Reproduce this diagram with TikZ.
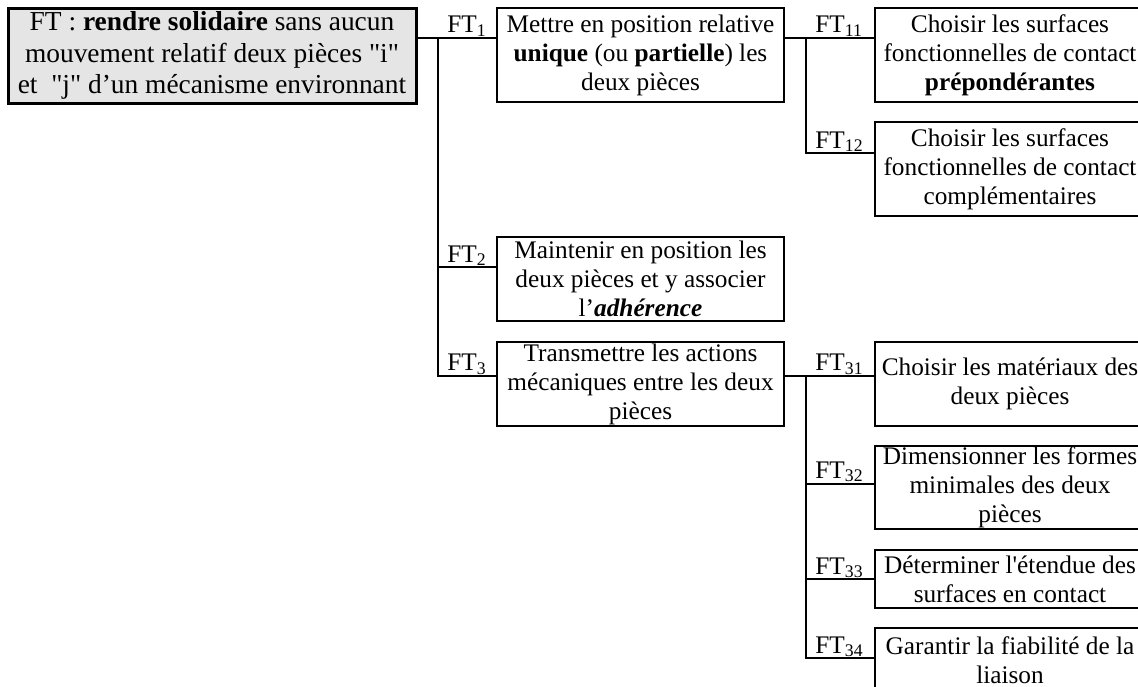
\documentclass[tikz,border=0pt]{standalone}
\usepackage{fontspec}
\setmainfont{Liberation Serif}[Ligatures=TeXOff]
\definecolor{rootfill}{RGB}{229,229,229}
\tikzset{
  box/.style={draw, line width=1pt, align=center, inner sep=0pt,
    font=\fontsize{12.65}{14.5}\selectfont},
  rootbox/.style={draw, line width=1.5pt, fill=rootfill, align=center, inner sep=0pt,
    font=\fontsize{13.7}{15.75}\selectfont},
  link/.style={line width=1pt},
  ftlabel/.style={anchor=base west, inner sep=0pt,
    font=\fontsize{12.65}{14.5}\selectfont},
}
\begin{document}
\begin{tikzpicture}[x=0.5pt, y=-0.5pt]
  \clip (0,0) rectangle (1138,686);

  % main function
  \node[rootbox, minimum width=204pt, minimum height=47.5pt] (root) at (212,55.5)
    {FT : \textbf{rendre solidaire} sans aucun\\
     mouvement relatif deux pièces "i"\\
     et~~"j" d’un mécanisme environnant};

  % first level
  \node[box, minimum width=143.5pt, minimum height=47pt] (ft1) at (640.5,55)
    {Mettre en position relative\\
     \textbf{unique} (ou \textbf{partielle}) les\\
     deux pièces};
  \node[box, minimum width=143.5pt, minimum height=42pt] (ft2) at (640.5,279)
    {Maintenir en position les\\
     deux pièces et y associer\\
     l’\textbf{\textit{adhérence}}};
  \node[box, minimum width=143.5pt, minimum height=42pt] (ft3) at (640.5,384)
    {Transmettre les actions\\
     mécaniques entre les deux\\
     pièces};

  % second level
  \node[box, minimum width=135pt, minimum height=47pt] (ft11) at (1010,55)
    {Choisir les surfaces\\
     fonctionnelles de contact\\
     \textbf{prépondérantes}};
  \node[box, minimum width=135pt, minimum height=47pt] (ft12) at (1010,169)
    {Choisir les surfaces\\
     fonctionnelles de contact\\
     complémentaires};
  \node[box, minimum width=135pt, minimum height=42pt] (ft31) at (1010,384)
    {Choisir les matériaux des\\
     deux pièces};
  \node[box, minimum width=135pt, minimum height=41.5pt] (ft32) at (1010,487.5)
    {Dimensionner les formes\\
     minimales des deux\\
     pièces};
  \node[box, minimum width=135pt, minimum height=29pt] (ft33) at (1010,579)
    {Déterminer l'étendue des\\
     surfaces en contact};
  \node[box, minimum width=135pt, minimum height=32pt] (ft34) at (1010,660)
    {Garantir la fiabilité de la\\
     liaison};

  % branch points
  \coordinate (t0) at (438,37.5);
  \coordinate (t2) at (438,267);
  \coordinate (t3) at (438,375.5);
  \coordinate (u0) at (806,37.5);
  \coordinate (u2) at (806,153);
  \coordinate (v0) at (806,375.5);
  \coordinate (v2) at (806,484);
  \coordinate (v3) at (806,579);
  \coordinate (v4) at (806,658);

  % connectors
  \draw[link] (root.east |- t0) -- (ft1.west |- t0);
  \draw[link] (t0) -- (t3) -- (ft3.west |- t3);
  \draw[link] (t2) -- (ft2.west |- t2);

  \draw[link] (ft1.east |- u0) -- (ft11.west |- u0);
  \draw[link] (u0) -- (u2) -- (ft12.west |- u2);

  \draw[link] (ft3.east |- v0) -- (ft31.west |- v0);
  \draw[link] (v0) -- (v4) -- (ft34.west |- v4);
  \draw[link] (v2) -- (ft32.west |- v2);
  \draw[link] (v3) -- (ft33.west |- v3);

  % branch labels
  \node[ftlabel] (l1)  at (447,32.5)  {FT\textsubscript{1}};
  \node[ftlabel] (l2)  at (447,262)   {FT\textsubscript{2}};
  \node[ftlabel] (l3)  at (447,370.5) {FT\textsubscript{3}};
  \node[ftlabel] (l11) at (815,32.5)  {FT\textsubscript{11}};
  \node[ftlabel] (l12) at (815,148)   {FT\textsubscript{12}};
  \node[ftlabel] (l31) at (815,370.5) {FT\textsubscript{31}};
  \node[ftlabel] (l32) at (815,478)   {FT\textsubscript{32}};
  \node[ftlabel] (l33) at (815,574)   {FT\textsubscript{33}};
  \node[ftlabel] (l34) at (815,653)   {FT\textsubscript{34}};
\end{tikzpicture}
\end{document}
